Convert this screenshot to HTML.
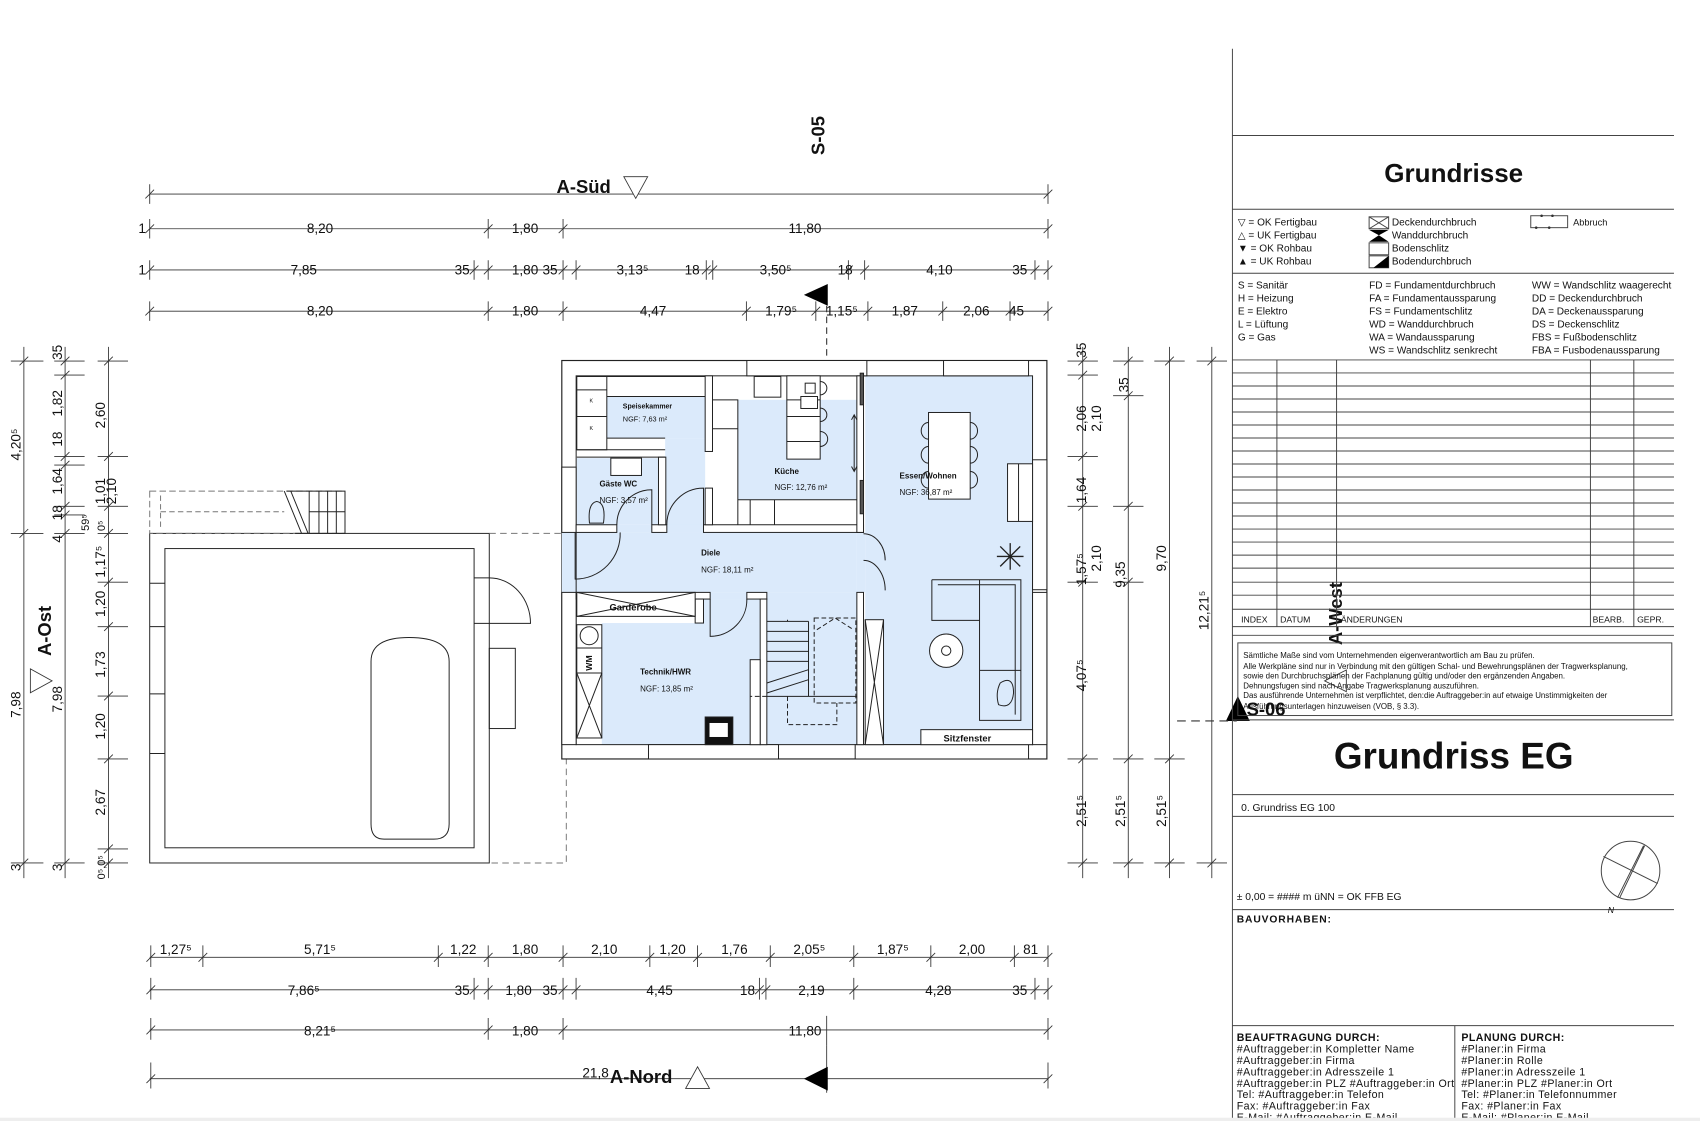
<!DOCTYPE html>
<html><head><meta charset="utf-8"><style>
html,body{margin:0;padding:0;background:#fff;}
svg{display:block;}
text{font-family:"Liberation Sans",sans-serif;fill:#111;}
.d{font-size:12.5px;}
.b{font-weight:bold;}
</style></head><body>
<svg width="1700" height="1121" viewBox="0 0 1567 1034" preserveAspectRatio="none" xmlns="http://www.w3.org/2000/svg">
<rect width="1567" height="1034" fill="#fff"/>
<g stroke="#333" stroke-width="0.8" fill="none">
<line x1="138" y1="179" x2="966" y2="179"/>
<line x1="138" y1="211" x2="966" y2="211"/>
<line x1="138" y1="249" x2="966" y2="249"/>
<line x1="138" y1="287" x2="966" y2="287"/>
<line x1="138" y1="883" x2="966" y2="883"/>
<line x1="138" y1="913" x2="966" y2="913"/>
<line x1="138" y1="950" x2="966" y2="950"/>
<line x1="138" y1="995" x2="966" y2="995"/>
<path d="M134,183L142,175M138,170V188 M962,183L970,175M966,170V188"/>
<path d="M134,215L142,207M138,202V220 M446,215L454,207M450,202V220 M515,215L523,207M519,202V220 M962,215L970,207M966,202V220"/>
<path d="M134,253L142,245M138,240V258 M433,253L441,245M437,240V258 M446,253L454,245M450,240V258 M515,253L523,245M519,240V258 M527,253L535,245M531,240V258 M647,253L655,245M651,240V258 M653,253L661,245M657,240V258 M778,253L786,245M782,240V258 M793,253L801,245M797,240V258 M950,253L958,245M954,240V258 M962,253L970,245M966,240V258"/>
<path d="M134,291L142,283M138,278V296 M446,291L454,283M450,278V296 M515,291L523,283M519,278V296 M684,291L692,283M688,278V296 M748,291L756,283M752,278V296 M796,291L804,283M800,278V296 M865,291L873,283M869,278V296 M927,291L935,283M931,278V296 M962,291L970,283M966,278V296"/>
<path d="M135,887L143,879M139,872V892 M183,887L191,879M187,872V892 M400,887L408,879M404,872V892 M446,887L454,879M450,872V892 M515,887L523,879M519,872V892 M595,887L603,879M599,872V892 M639,887L647,879M643,872V892 M706,887L714,879M710,872V892 M783,887L791,879M787,872V892 M854,887L862,879M858,872V892 M931,887L939,879M935,872V892 M962,887L970,879M966,872V892"/>
<path d="M135,917L143,909M139,902V922 M433,917L441,909M437,902V922 M446,917L454,909M450,902V922 M515,917L523,909M519,902V922 M527,917L535,909M531,902V922 M696,917L704,909M700,902V922 M702,917L710,909M706,902V922 M783,917L791,909M787,902V922 M950,917L958,909M954,902V922 M962,917L970,909M966,902V922"/>
<path d="M135,954L143,946M139,939V959 M446,954L454,946M450,939V959 M515,954L523,946M519,939V959 M962,954L970,946M966,939V959 M762,937V964"/>
<path d="M135,999L143,991M139,980V1004 M962,999L970,991M966,980V1004 M762,964V1008"/>
<line x1="22" y1="320" x2="22" y2="810"/>
<line x1="60" y1="320" x2="60" y2="810"/>
<line x1="100" y1="320" x2="100" y2="810"/>
<path d="M18,337L26,329M10,333H40 M18,496L26,488M10,492H40 M18,800L26,792M10,796H40"/>
<path d="M56,337L64,329M50,333H78 M56,350L64,342M50,346H78 M56,425L64,417M56,433L64,425M50,421H78M50,429H78 M56,471L64,463M56,479L64,471M50,467H78M50,475H78 M56,496L64,488M50,492H78 M56,800L64,792M50,796H78"/>
<path d="M96,337L104,329M90,333H118 M96,425L104,417M90,421H118 M96,471L104,463M90,467H118 M96,496L104,488M90,492H118 M96,541L104,533M90,537H118 M96,582L104,574M90,578H118 M96,646L104,638M90,642H118 M96,704L104,696M90,700H118 M96,787L104,779M90,783H118 M96,800L104,792M90,796H118"/>
<line x1="998" y1="320" x2="998" y2="810"/>
<line x1="1040" y1="320" x2="1040" y2="810"/>
<line x1="1078" y1="320" x2="1078" y2="810"/>
<line x1="1117" y1="320" x2="1117" y2="810"/>
<path d="M994,337L1002,329M984,333H1012 M994,350L1002,342M984,346H1012 M994,425L1002,417M984,421H1012 M994,471L1002,463M984,467H1012 M994,541L1002,533M984,537H1012 M994,704L1002,696M984,700H1012 M994,800L1002,792M984,796H1012"/>
<path d="M1036,337L1044,329M1026,333H1054 M1036,369L1044,361M1026,365H1054 M1036,471L1044,463M1026,467H1054 M1036,541L1044,533M1026,537H1054 M1036,704L1044,696M1026,700H1054 M1036,800L1044,792M1026,796H1054"/>
<path d="M1074,337L1082,329M1064,333H1092 M1074,704L1082,696M1064,700H1092 M1074,800L1082,792M1064,796H1092"/>
<path d="M1113,337L1121,329M1103,333H1131 M1113,800L1121,792M1103,796H1131"/>
</g>
<g class="d" text-anchor="middle">
<text x="131" y="215">1</text><text x="295" y="215">8,20</text><text x="484" y="215">1,80</text><text x="742" y="215">11,80</text>
<text x="131" y="253">1</text><text x="280" y="253">7,85</text><text x="426" y="253">35</text><text x="484" y="253">1,80</text><text x="507" y="253">35</text><text x="583" y="253">3,13⁵</text><text x="638" y="253">18</text><text x="715" y="253">3,50⁵</text><text x="779" y="253">18</text><text x="866" y="253">4,10</text><text x="940" y="253">35</text>
<text x="295" y="291">8,20</text><text x="484" y="291">1,80</text><text x="602" y="291">4,47</text><text x="720" y="291">1,79⁵</text><text x="776" y="291">1,15⁵</text><text x="834" y="291">1,87</text><text x="900" y="291">2,06</text><text x="937" y="291">45</text>
<text x="162" y="880">1,27⁵</text><text x="295" y="880">5,71⁵</text><text x="427" y="880">1,22</text><text x="484" y="880">1,80</text><text x="557" y="880">2,10</text><text x="620" y="880">1,20</text><text x="677" y="880">1,76</text><text x="746" y="880">2,05⁵</text><text x="823" y="880">1,87⁵</text><text x="896" y="880">2,00</text><text x="950" y="880">81</text>
<text x="280" y="918">7,86⁵</text><text x="426" y="918">35</text><text x="478" y="918">1,80</text><text x="507" y="918">35</text><text x="608" y="918">4,45</text><text x="689" y="918">18</text><text x="748" y="918">2,19</text><text x="865" y="918">4,28</text><text x="940" y="918">35</text>
<text x="295" y="955">8,21⁵</text><text x="484" y="955">1,80</text><text x="742" y="955">11,80</text>
<text x="549" y="994">21,8</text>
</g>
<g class="d" text-anchor="middle">
<text transform="translate(19,410) rotate(-90)">4,20⁵</text>
<text transform="translate(19,650) rotate(-90)">7,98</text>
<text transform="translate(19,800) rotate(-90)">3</text>
<text transform="translate(57,325) rotate(-90)">35</text>
<text transform="translate(57,372) rotate(-90)">1,82</text>
<text transform="translate(57,405) rotate(-90)">18</text>
<text transform="translate(57,444) rotate(-90)">1,64</text>
<text transform="translate(57,473) rotate(-90)">18</text>
<text transform="translate(57,497) rotate(-90)">4</text>
<text transform="translate(57,645) rotate(-90)">7,98</text>
<text transform="translate(57,800) rotate(-90)">3</text>
<text transform="translate(97,383) rotate(-90)">2,60</text>
<text transform="translate(97,453) rotate(-90)">1,01</text>
<text transform="translate(107,453) rotate(-90)">2,10</text>
<text transform="translate(82,482) rotate(-90)" style="font-size:10px">59⁵</text>
<text transform="translate(97,485) rotate(-90)" style="font-size:10px">0⁵</text>
<text transform="translate(97,518) rotate(-90)">1,17⁵</text>
<text transform="translate(97,557) rotate(-90)">1,20</text>
<text transform="translate(97,613) rotate(-90)">1,73</text>
<text transform="translate(97,670) rotate(-90)">1,20</text>
<text transform="translate(97,740) rotate(-90)">2,67</text>
<text transform="translate(97,800) rotate(-90)" style="font-size:10px">0⁵,0⁵</text>
<text transform="translate(1001,323) rotate(-90)">35</text>
<text transform="translate(1001,386) rotate(-90)">2,06</text>
<text transform="translate(1015,386) rotate(-90)">2,10</text>
<text transform="translate(1001,452) rotate(-90)">1,64</text>
<text transform="translate(1001,525) rotate(-90)">1,57⁵</text>
<text transform="translate(1015,515) rotate(-90)">2,10</text>
<text transform="translate(1001,623) rotate(-90)">4,07⁵</text>
<text transform="translate(1001,748) rotate(-90)">2,51⁵</text>
<text transform="translate(1040,355) rotate(-90)">35</text>
<text transform="translate(1037,530) rotate(-90)">9,35</text>
<text transform="translate(1037,748) rotate(-90)">2,51⁵</text>
<text transform="translate(1075,515) rotate(-90)">9,70</text>
<text transform="translate(1075,748) rotate(-90)">2,51⁵</text>
<text transform="translate(1114,563) rotate(-90)">12,21⁵</text>
</g>
<text class="b" x="538" y="178" text-anchor="middle" font-size="17">A-Süd</text>
<polygon points="575,163 597,163 586,183" fill="#fff" stroke="#333" stroke-width="0.8"/>
<text class="b" transform="translate(760,125) rotate(-90)" text-anchor="middle" font-size="17">S-05</text>
<polygon points="741,272 763,262 763,282" fill="#000"/>
<line x1="762" y1="282" x2="762" y2="330" stroke="#333" stroke-dasharray="6,4"/>
<text class="b" x="591" y="999" text-anchor="middle" font-size="17">A-Nord</text>
<polygon points="632,1004 654,1004 643,984" fill="#fff" stroke="#333" stroke-width="0.8"/>
<polygon points="741,995 763,984 763,1006" fill="#000"/>
<text class="b" transform="translate(47,582) rotate(-90)" text-anchor="middle" font-size="17">A-Ost</text>
<polygon points="28,617 28,639 48,628" fill="#fff" stroke="#333" stroke-width="0.8"/>
<text class="b" transform="translate(1237,566) rotate(-90)" text-anchor="middle" font-size="17">A-West</text>
<polygon points="1241,618 1221,628 1241,638" fill="#fff" stroke="#333" stroke-width="0.8"/>
<polygon points="1130,665 1141,642 1152,665" fill="#000"/>
<text class="b" x="1167" y="660" text-anchor="middle" font-size="17">S-06</text>
<line x1="1085" y1="665" x2="1140" y2="665" stroke="#333" stroke-dasharray="8,5"/>
<g stroke="#222" stroke-width="0.9" fill="none">
<rect x="138" y="492" width="313" height="304" fill="#fff"/>
<rect x="152" y="506" width="285" height="276"/>
<path d="M437,533H451 M437,575H451 M451,533 A38,42 0 0 1 489,575 H451"/>
<rect x="451" y="598" width="24" height="74"/>
<path d="M138,538H152 M138,578H152 M138,640H152 M138,695H152"/>
<path d="M342,610 Q342,588 377,588 Q414,588 414,610 V760 Q414,774 400,774 H354 Q342,774 342,760 Z"/>
<rect x="138" y="453" width="180" height="39" stroke-dasharray="6,3" stroke="#777"/>
<path d="M148,457 V488 M148,472 H262" stroke-dasharray="5,3" stroke="#777"/>
<path d="M264,453H318V492H272 M262,453 L278,492 M268,453 L284,492 M285,453V492 M294,453V492 M302,453V492 M310,453V492 M285,472H318"/>
<path d="M451,492H519 M522,699V796H451" stroke-dasharray="6,4" stroke="#777"/>
</g>
<g transform="translate(507.1,322.7) scale(0.3073)">
<rect x="35" y="32" width="1455" height="1196" fill="#fff" stroke="#222" stroke-width="3.5"/>
<g fill="#dbeafb">
<rect x="170" y="140" width="295" height="125"/>
<rect x="345" y="265" width="120" height="283"/>
<rect x="80" y="325" width="245" height="200"/>
<rect x="563" y="150" width="357" height="300"/>
<rect x="945" y="78" width="502" height="1107"/>
<rect x="78" y="548" width="842" height="180"/>
<rect x="650" y="728" width="270" height="457"/>
<rect x="155" y="820" width="475" height="365"/>
<rect x="460" y="748" width="170" height="72"/>
<rect x="200" y="525" width="105" height="23"/>
<rect x="350" y="525" width="110" height="23"/>
<rect x="480" y="728" width="110" height="20"/>
<rect x="920" y="548" width="25" height="180"/>
<rect x="35" y="548" width="43" height="180"/>
</g>
<g fill="none" stroke="#222" stroke-width="3">
<rect x="78" y="78" width="1369" height="1107"/>
<rect x="590" y="32" width="360" height="46" fill="#fff"/>
<rect x="1180" y="32" width="255" height="46" fill="#fff"/>
<rect x="1447" y="330" width="43" height="390" fill="#fff"/>
<rect x="1447" y="728" width="43" height="457" fill="#fff"/>
<rect x="295" y="1185" width="390" height="43" fill="#fff"/>
<rect x="915" y="1185" width="520" height="43" fill="#fff"/>
<rect x="35" y="352" width="43" height="196" fill="#fff"/>
<rect x="35" y="728" width="43" height="457" fill="#fff"/>
<rect x="78" y="525" width="122" height="23" fill="#fff"/>
<rect x="305" y="525" width="45" height="23" fill="#fff"/>
<rect x="460" y="525" width="480" height="23" fill="#fff"/>
<rect x="465" y="78" width="22" height="227" fill="#fff"/>
<rect x="465" y="415" width="22" height="110" fill="#fff"/>
<rect x="920" y="78" width="20" height="470" fill="#fff"/>
<rect x="920" y="728" width="20" height="457" fill="#fff"/>
<rect x="325" y="322" width="22" height="203" fill="#fff"/>
<rect x="78" y="728" width="402" height="20" fill="#fff"/>
<rect x="590" y="728" width="60" height="20" fill="#fff"/>
<rect x="630" y="748" width="20" height="437" fill="#fff"/>
<rect x="435" y="748" width="25" height="72" fill="#fff"/>
<rect x="80" y="80" width="90" height="220" fill="#fff"/>
<path d="M80,120H170 M80,200H170 M170,80H465 M170,140H465 M170,265H345 M80,300H345 M80,322H345"/>
<rect x="182" y="325" width="92" height="52" fill="#fff"/>
<path d="M118,520 Q112,460 140,455 Q168,460 160,520Z"/>
<path d="M200,525 A105,105 0 0 1 305,420 V525"/>
<path d="M350,525 A110,110 0 0 1 460,415 V525"/>
<path d="M210,548 A135,135 0 0 1 75,688 V548"/>
<path d="M487,150H563V525 M487,237H563 M600,450V525 M673,450V525 M563,450H920"/>
<rect x="612" y="80" width="80" height="62" fill="#fff"/>
<rect x="710" y="78" width="100" height="250" fill="#fff"/>
<path d="M710,150H810 M710,200H810 M710,275H810"/>
<rect x="765" y="100" width="30" height="30" fill="#fff"/>
<rect x="752" y="140" width="50" height="36" fill="#fff"/>
<path d="M810,95 A20,20 0 0 1 810,135 M810,175 A20,20 0 0 1 810,215 M810,245 A20,20 0 0 1 810,290"/>
<path d="M912,195V365 M904,210L912,195L920,210 M904,350L912,365L920,350"/>
<rect x="930" y="70" width="10" height="95" fill="#555"/>
<rect x="930" y="392" width="10" height="100" fill="#555"/>
<path d="M940,552 A65,80 0 0 1 1005,632 M940,632 A65,90 0 0 1 1005,722"/>
<path d="M480,748V860 A110,110 0 0 0 590,748"/>
<rect x="80" y="728" width="355" height="72" fill="#fff"/>
<path d="M80,728L435,800 M80,800L435,728"/>
<rect x="80" y="825" width="75" height="340" fill="#fff"/>
<circle cx="117" cy="858" r="27"/>
<path d="M80,895H155 M80,970H155 M80,970L155,1165 M155,970L80,1165"/>
<rect x="465" y="1102" width="83" height="83" fill="#111"/>
<rect x="478" y="1120" width="55" height="42" fill="#fff" stroke="none"/>
<path d="M650,815H775 M650,845H775 M650,875H775 M650,905H775 M650,935H775 M775,815V1040 M650,1000L775,960 M650,1030L775,990 M712,815V810 M650,1040H920"/>
<rect x="600" y="930" width="30" height="255" fill="#fff"/>
<g stroke-dasharray="14,8">
<rect x="792" y="805" width="125" height="255"/>
<path d="M712,1040V1125H860V1060 M800,840L855,805L910,840 M650,1040L600,1040"/>
</g>
<rect x="1135" y="188" width="125" height="260" fill="#fff"/>
<path d="M1135,218 A22,25 0 0 0 1135,268 M1135,290 A22,25 0 0 0 1135,340 M1135,365 A22,25 0 0 0 1135,415 M1260,218 A22,25 0 0 1 1260,268 M1260,290 A22,25 0 0 1 1260,340 M1260,365 A22,25 0 0 1 1260,415"/>
<rect x="1372" y="342" width="75" height="173" fill="#fff"/>
<path d="M1405,342V515"/>
<path d="M1145,690H1412V1112H1288V690 M1145,690V812H1288 M1163,705H1395V1095 M1288,962H1412"/>
<circle cx="1188" cy="903" r="50" fill="#fff"/>
<circle cx="1188" cy="903" r="14"/>
<path d="M1350,1000 Q1390,975 1390,1030 Q1385,1080 1345,1065 Q1335,1030 1350,1000Z"/>
<path d="M1340,620L1420,620 M1380,580L1380,660 M1350,590L1410,650 M1410,590L1350,650" stroke-width="4"/>
<rect x="945" y="810" width="55" height="375" fill="#fff"/>
<path d="M945,810L1000,1185 M1000,810L945,1185"/>
<rect x="1112" y="1140" width="335" height="45" fill="#fff"/>
</g>
<g font-family="Liberation Sans,sans-serif" fill="#111">
<text x="218" y="176" font-size="21" font-weight="bold">Speisekammer</text>
<text x="218" y="215" font-size="22">NGF:    7,63 m²</text>
<text x="118" y="158" font-size="16">K</text><text x="118" y="240" font-size="16">K</text>
<text x="148" y="410" font-size="24" font-weight="bold">Gäste WC</text>
<text x="148" y="460" font-size="24">NGF: 3,57 m²</text>
<text x="673" y="372" font-size="24" font-weight="bold">Küche</text>
<text x="673" y="420" font-size="24">NGF: 12,76 m²</text>
<text x="1048" y="386" font-size="24" font-weight="bold">Essen/Wohnen</text>
<text x="1048" y="435" font-size="24">NGF:   36,87 m²</text>
<text x="453" y="618" font-size="24" font-weight="bold">Diele</text>
<text x="453" y="668" font-size="24">NGF: 18,11 m²</text>
<text x="178" y="782" font-size="28" font-weight="bold">Garderobe</text>
<text x="270" y="975" font-size="24" font-weight="bold">Technik/HWR</text>
<text x="270" y="1025" font-size="24">NGF: 13,85 m²</text>
<text x="1180" y="1176" font-size="28" font-weight="bold">Sitzfenster</text>
<text transform="translate(126,940) rotate(-90)" text-anchor="middle" font-size="26" font-weight="bold">WM</text>
</g>
</g>
<g stroke="#444" stroke-width="0.9" fill="none">
<line x1="1136" y1="45" x2="1136" y2="1034"/>
<line x1="1136" y1="125" x2="1543" y2="125"/>
<line x1="1136" y1="193" x2="1543" y2="193"/>
<line x1="1136" y1="252" x2="1543" y2="252"/>
<line x1="1136" y1="332" x2="1543" y2="332"/>
<path d="M1136,344H1543 M1136,356H1543 M1136,368H1543 M1136,380H1543 M1136,392H1543 M1136,404H1543 M1136,416H1543 M1136,428H1543 M1136,440H1543 M1136,452H1543 M1136,464H1543 M1136,476H1543 M1136,488H1543 M1136,500H1543 M1136,512H1543 M1136,524H1543 M1136,537H1543 M1136,549H1543 M1136,562H1543 M1136,578H1543 M1136,586H1543"/>
<path d="M1177,332V578 M1232,332V578 M1466,332V578 M1506,332V578"/>
<rect x="1141" y="593" width="400" height="67"/>
<line x1="1136" y1="664" x2="1543" y2="664"/>
<line x1="1136" y1="733" x2="1543" y2="733"/>
<line x1="1136" y1="753" x2="1543" y2="753"/>
<line x1="1136" y1="839" x2="1543" y2="839"/>
<line x1="1136" y1="946" x2="1543" y2="946"/>
<line x1="1341" y1="946" x2="1341" y2="1034"/>
<circle cx="1503" cy="803" r="27"/>
<path d="M1478,790L1528,815 M1515,780L1491,828 M1493,828L1516,780"/>
<rect x="1411" y="199" width="34" height="11"/>
<rect x="1262" y="200" width="18" height="11"/><path d="M1262,200L1280,211M1280,200L1262,211"/>
<rect x="1262" y="224" width="18" height="11"/>
<rect x="1262" y="236" width="18" height="11"/>
</g>
<g fill="#333"><circle cx="1421" cy="199" r="1.2"/><circle cx="1431" cy="199" r="1.2"/><circle cx="1416" cy="210" r="1.2"/><circle cx="1428" cy="210" r="1.2"/></g>
<polygon points="1262,212 1280,212 1271,217 1280,223 1262,223 1271,217" fill="#000"/>
<polygon points="1266,247 1280,236 1280,247" fill="#000"/>
<text class="b" x="1340" y="168" text-anchor="middle" font-size="24">Grundrisse</text>
<g font-size="9.3">
<text x="1141" y="208">▽  = OK Fertigbau</text>
<text x="1141" y="220">△  = UK Fertigbau</text>
<text x="1141" y="232">▼  = OK Rohbau</text>
<text x="1141" y="244">▲  = UK Rohbau</text>
<text x="1283" y="208">Deckendurchbruch</text>
<text x="1283" y="220">Wanddurchbruch</text>
<text x="1283" y="232">Bodenschlitz</text>
<text x="1283" y="244">Bodendurchbruch</text>
<text x="1450" y="208" font-size="8.5">Abbruch</text>
<text x="1141" y="266">S = Sanitär</text><text x="1141" y="278">H = Heizung</text><text x="1141" y="290">E = Elektro</text><text x="1141" y="302">L = Lüftung</text><text x="1141" y="314">G = Gas</text>
<text x="1262" y="266">FD = Fundamentdurchbruch</text><text x="1262" y="278">FA = Fundamentaussparung</text><text x="1262" y="290">FS = Fundamentschlitz</text><text x="1262" y="302">WD = Wanddurchbruch</text><text x="1262" y="314">WA = Wandaussparung</text><text x="1262" y="326">WS = Wandschlitz senkrecht</text>
<text x="1412" y="266">WW = Wandschlitz waagerecht</text><text x="1412" y="278">DD = Deckendurchbruch</text><text x="1412" y="290">DA = Deckenaussparung</text><text x="1412" y="302">DS = Deckenschlitz</text><text x="1412" y="314">FBS = Fußbodenschlitz</text><text x="1412" y="326">FBA = Fusbodenaussparung</text>
</g>
<g font-size="8">
<text x="1144" y="574">INDEX</text><text x="1180" y="574">DATUM</text><text x="1236" y="574">ÄNDERUNGEN</text><text x="1468" y="574">BEARB.</text><text x="1509" y="574">GEPR.</text>
</g>
<g font-size="7.3">
<text x="1146" y="607">Sämtliche Maße sind vom Unternehmenden eigenverantwortlich am Bau zu prüfen.</text>
<text x="1146" y="617">Alle Werkpläne sind nur in Verbindung mit den gültigen Schal- und Bewehrungsplänen der Tragwerksplanung,</text>
<text x="1146" y="626">sowie den Durchbruchsplänen der Fachplanung gültig und/oder den ergänzenden Angaben.</text>
<text x="1146" y="635">Dehnungsfugen sind nach Angabe Tragwerksplanung auszuführen.</text>
<text x="1146" y="644">Das ausführende Unternehmen ist verpflichtet, den:die Auftraggeber:in auf etwaige Unstimmigkeiten der</text>
<text x="1146" y="654">Ausführungsunterlagen hinzuweisen (VOB, § 3.3).</text>
</g>
<text class="b" x="1340" y="709" text-anchor="middle" font-size="34">Grundriss EG</text>
<text x="1144" y="748" font-size="9.5">0. Grundriss EG 100</text>
<text x="1140" y="830" font-size="9.5">± 0,00 = #### m üNN = OK FFB EG</text>
<text x="1482" y="842" font-size="8" font-style="italic">N</text>
<text class="b" x="1140" y="851" font-size="9.5" letter-spacing="0.8">BAUVORHABEN:</text>
<g font-size="9.8" letter-spacing="0.4">
<text class="b" x="1140" y="960">BEAUFTRAGUNG DURCH:</text>
<text x="1140" y="971">#Auftraggeber:in Kompletter Name</text>
<text x="1140" y="981.5">#Auftraggeber:in Firma</text>
<text x="1140" y="992">#Auftraggeber:in Adresszeile 1</text>
<text x="1140" y="1002.5">#Auftraggeber:in PLZ #Auftraggeber:in Ort</text>
<text x="1140" y="1013">Tel: #Auftraggeber:in Telefon</text>
<text x="1140" y="1023.5">Fax: #Auftraggeber:in Fax</text>
<text x="1140" y="1034">E-Mail: #Auftraggeber:in E-Mail</text>
<text class="b" x="1347" y="960">PLANUNG DURCH:</text>
<text x="1347" y="971">#Planer:in Firma</text>
<text x="1347" y="981.5">#Planer:in Rolle</text>
<text x="1347" y="992">#Planer:in Adresszeile 1</text>
<text x="1347" y="1002.5">#Planer:in PLZ #Planer:in Ort</text>
<text x="1347" y="1013">Tel: #Planer:in Telefonnummer</text>
<text x="1347" y="1023.5">Fax: #Planer:in Fax</text>
<text x="1347" y="1034">E-Mail: #Planer:in E-Mail</text>
</g>
<rect x="0" y="1031" width="1567" height="3" fill="#eee"/>
</svg>
</body></html>
